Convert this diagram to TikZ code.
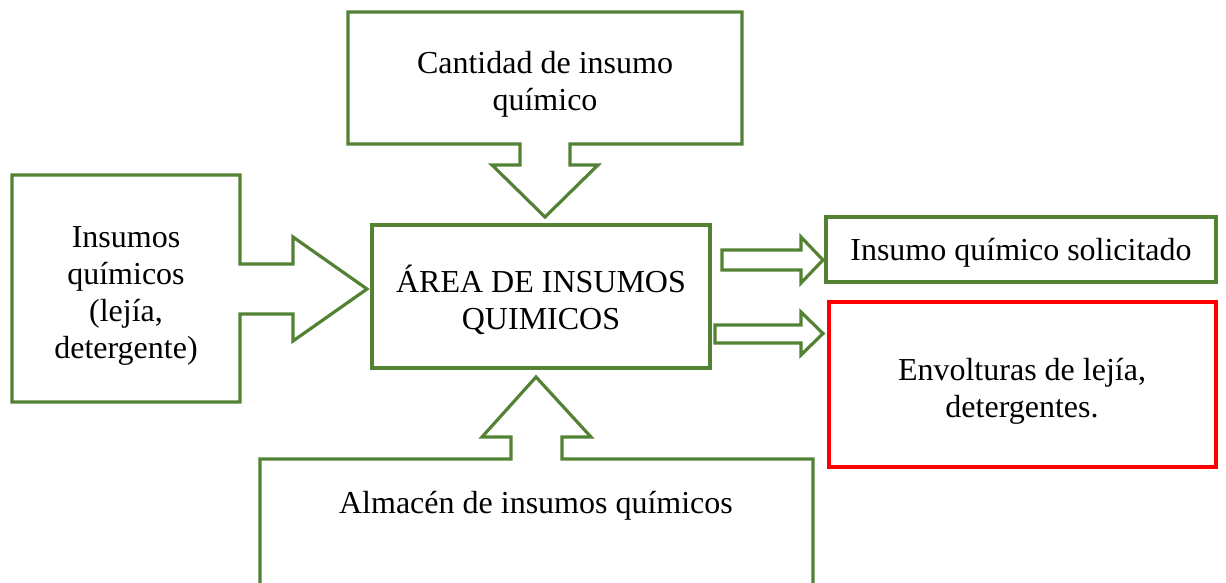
\documentclass[tikz,border=0pt]{standalone}
\usepackage{fontspec}
\setmainfont{Liberation Serif}
\usetikzlibrary{positioning}
\definecolor{boxgreen}{HTML}{548235}
\definecolor{boxred}{HTML}{FF0000}
\tikzset{
	greenline/.style={draw=boxgreen, line width=1.6pt, line join=miter},
	redline/.style={draw=boxred, line width=1.6pt},
	boxtext/.style={align=center, font=\fontsize{16}{18.5}\selectfont, inner sep=0pt},
}

\begin{document}
\begin{tikzpicture}[x=0.5pt,y=-0.5pt]
	\useasboundingbox (0,0) rectangle (1226,583);
	
	\draw[greenline] (348,12) -- (742,12) -- (742,144) -- (570,144) -- (570,165) -- (598,165) -- (545,217) -- (492,165) -- (520,165) -- (520,144) -- (348,144) -- cycle;
	\node[boxtext] (qty) at (545,84) {Cantidad de insumo\\químico};
	
	\draw[greenline] (12,175) -- (240,175) -- (240,264) -- (293,264) -- (293,237) -- (367,289) -- (293,341) -- (293,314) -- (240,314) -- (240,402) -- (12,402) -- cycle;
	\node[boxtext] (inputs) at (126,296) {Insumos\\químicos\\(lejía,\\detergente)};
	
	\draw[greenline] (260,590) -- (260,459) -- (511,459) -- (511,437) -- (482,437) -- (536,377) -- (591,437) -- (562,437) -- (562,459) -- (813,459) -- (813,590);
	\node[boxtext] (store) at (536,506) {Almacén de insumos químicos};
	
	\node[greenline, minimum width=169pt, minimum height=71.5pt] (area) at (541,296.5) {};
	\node[boxtext] (areatext) at (541,300) {ÁREA DE INSUMOS\\QUIMICOS};
	
	\node[greenline, minimum width=195pt, minimum height=32.5pt] (requested) at (1021,249.5) {};
	\node[boxtext] (requestedtext) at (1021,253) {Insumo químico solicitado};
	\node[redline, minimum width=193.5pt, minimum height=82.5pt] (waste) at (1022.5,384.5) {};
	\node[boxtext] (wastetext) at (1022,391) {Envolturas de lejía,\\detergentes.};
	
	\draw[greenline] (722,250) -- (801,250) -- (801,237) -- (823,260) -- (801,283) -- (801,270) -- (722,270) -- cycle;
	\draw[greenline] (715,325) -- (801,325) -- (801,312) -- (823,333.5) -- (801,355) -- (801,343) -- (715,343) -- cycle;
	
\end{tikzpicture}
\end{document}
